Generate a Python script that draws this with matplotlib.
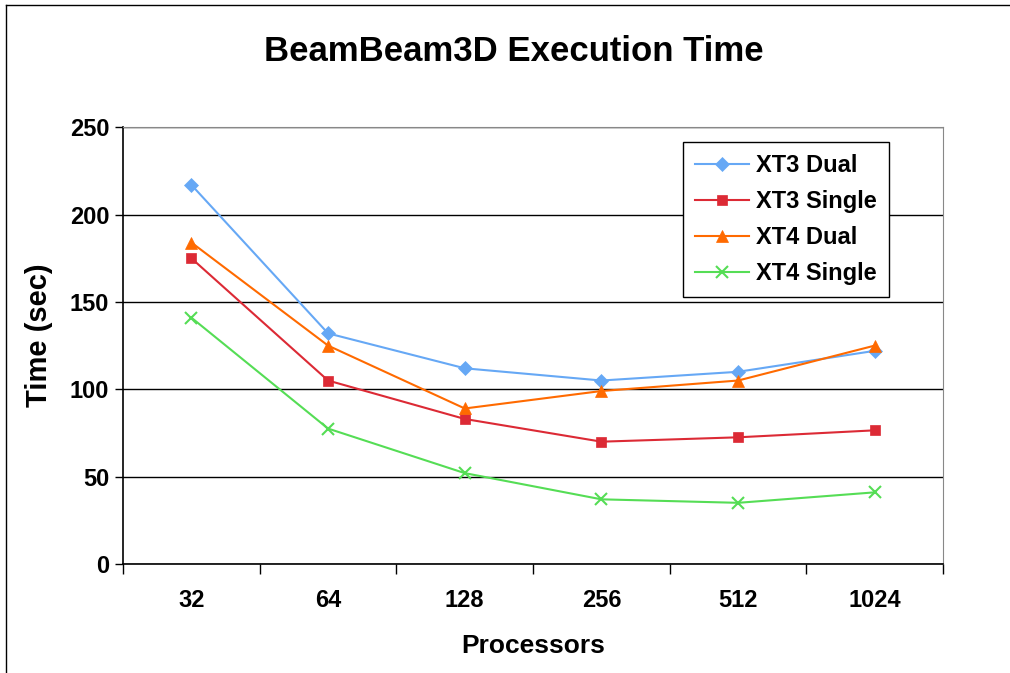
import numpy as np
import matplotlib
matplotlib.use('Agg')
import matplotlib.pyplot as plt
from matplotlib.lines import Line2D

plt.rcParams['font.family'] = ['Liberation Sans', 'DejaVu Sans']

# Data
processors = ['32', '64', '128', '256', '512', '1024']
xt3_dual = [217, 132, 112, 105, 110, 122]
xt3_single = [175, 105, 83, 70, 72.5, 76.5]
xt4_dual = [184, 125, 89, 99, 105, 125]
xt4_single = [141, 77.5, 52, 37, 35, 41]

series = [
    ('XT3 Dual', xt3_dual, '#66a8f5', 'D', 7),
    ('XT3 Single', xt3_single, '#dc2a35', 's', 7),
    ('XT4 Dual', xt4_dual, '#ff6a00', '^', 9),
    ('XT4 Single', xt4_single, '#55dd55', 'x', 9),
]

fig = plt.figure(figsize=(10.10, 6.73), dpi=100)
ax = fig.add_axes([0.1218, 0.162, 0.812, 0.649])

x = np.arange(len(processors))
for name, vals, col, mk, ms in series:
    ax.plot(x, vals, color=col, marker=mk, markersize=ms, linewidth=1.5,
            markeredgewidth=1.5 if mk == 'x' else 0.5, label=name)

ax.set_xlim(-0.5, len(processors) - 0.5)
ax.set_ylim(0, 250)
ax.set_yticks([0, 50, 100, 150, 200, 250])
ax.yaxis.grid(True, color='black', linewidth=1)
ax.set_axisbelow(True)

ax.set_xticks(x)
ax.set_xticklabels(processors)
ax.set_xticks(np.arange(-0.5, len(processors)), minor=True)
ax.tick_params(axis='x', which='major', length=0, pad=18)
ax.tick_params(axis='x', which='minor', length=7, width=1, direction='out')
ax.tick_params(axis='y', length=6, width=1, direction='out', pad=4)
for lbl in ax.get_xticklabels() + ax.get_yticklabels():
    lbl.set_fontsize(17)
    lbl.set_fontweight('bold')

for side in ['top', 'right']:
    ax.spines[side].set_color('#888888')
for side in ['left', 'bottom']:
    ax.spines[side].set_color('black')
    ax.spines[side].set_linewidth(1.2)

ax.set_xlabel('Processors', fontsize=19, fontweight='bold', labelpad=16)
ax.set_ylabel('Time (sec)', fontsize=21, fontweight='bold')
ax.yaxis.set_label_coords(-0.085, 0.524)
fig.suptitle('BeamBeam3D Execution Time', fontsize=25, fontweight='bold',
             x=0.509, y=0.948)

leg = ax.legend(loc='upper left', bbox_to_anchor=(0.683, 0.966), borderaxespad=0,
                prop={'size': 17, 'weight': 'bold'}, frameon=True, fancybox=False,
                edgecolor='black', framealpha=1, handlelength=2.3, labelspacing=0.55,
                borderpad=0.5, handletextpad=0.3)
leg.get_frame().set_linewidth(1)

# outer chart border (left and top edges visible)
fig.add_artist(Line2D([0.006, 0.006], [0.0, 0.993], color='black', linewidth=1,
                      transform=fig.transFigure))
fig.add_artist(Line2D([0.006, 1.0], [0.993, 0.993], color='black', linewidth=1,
                      transform=fig.transFigure))

fig.savefig('out.png', dpi=100)
